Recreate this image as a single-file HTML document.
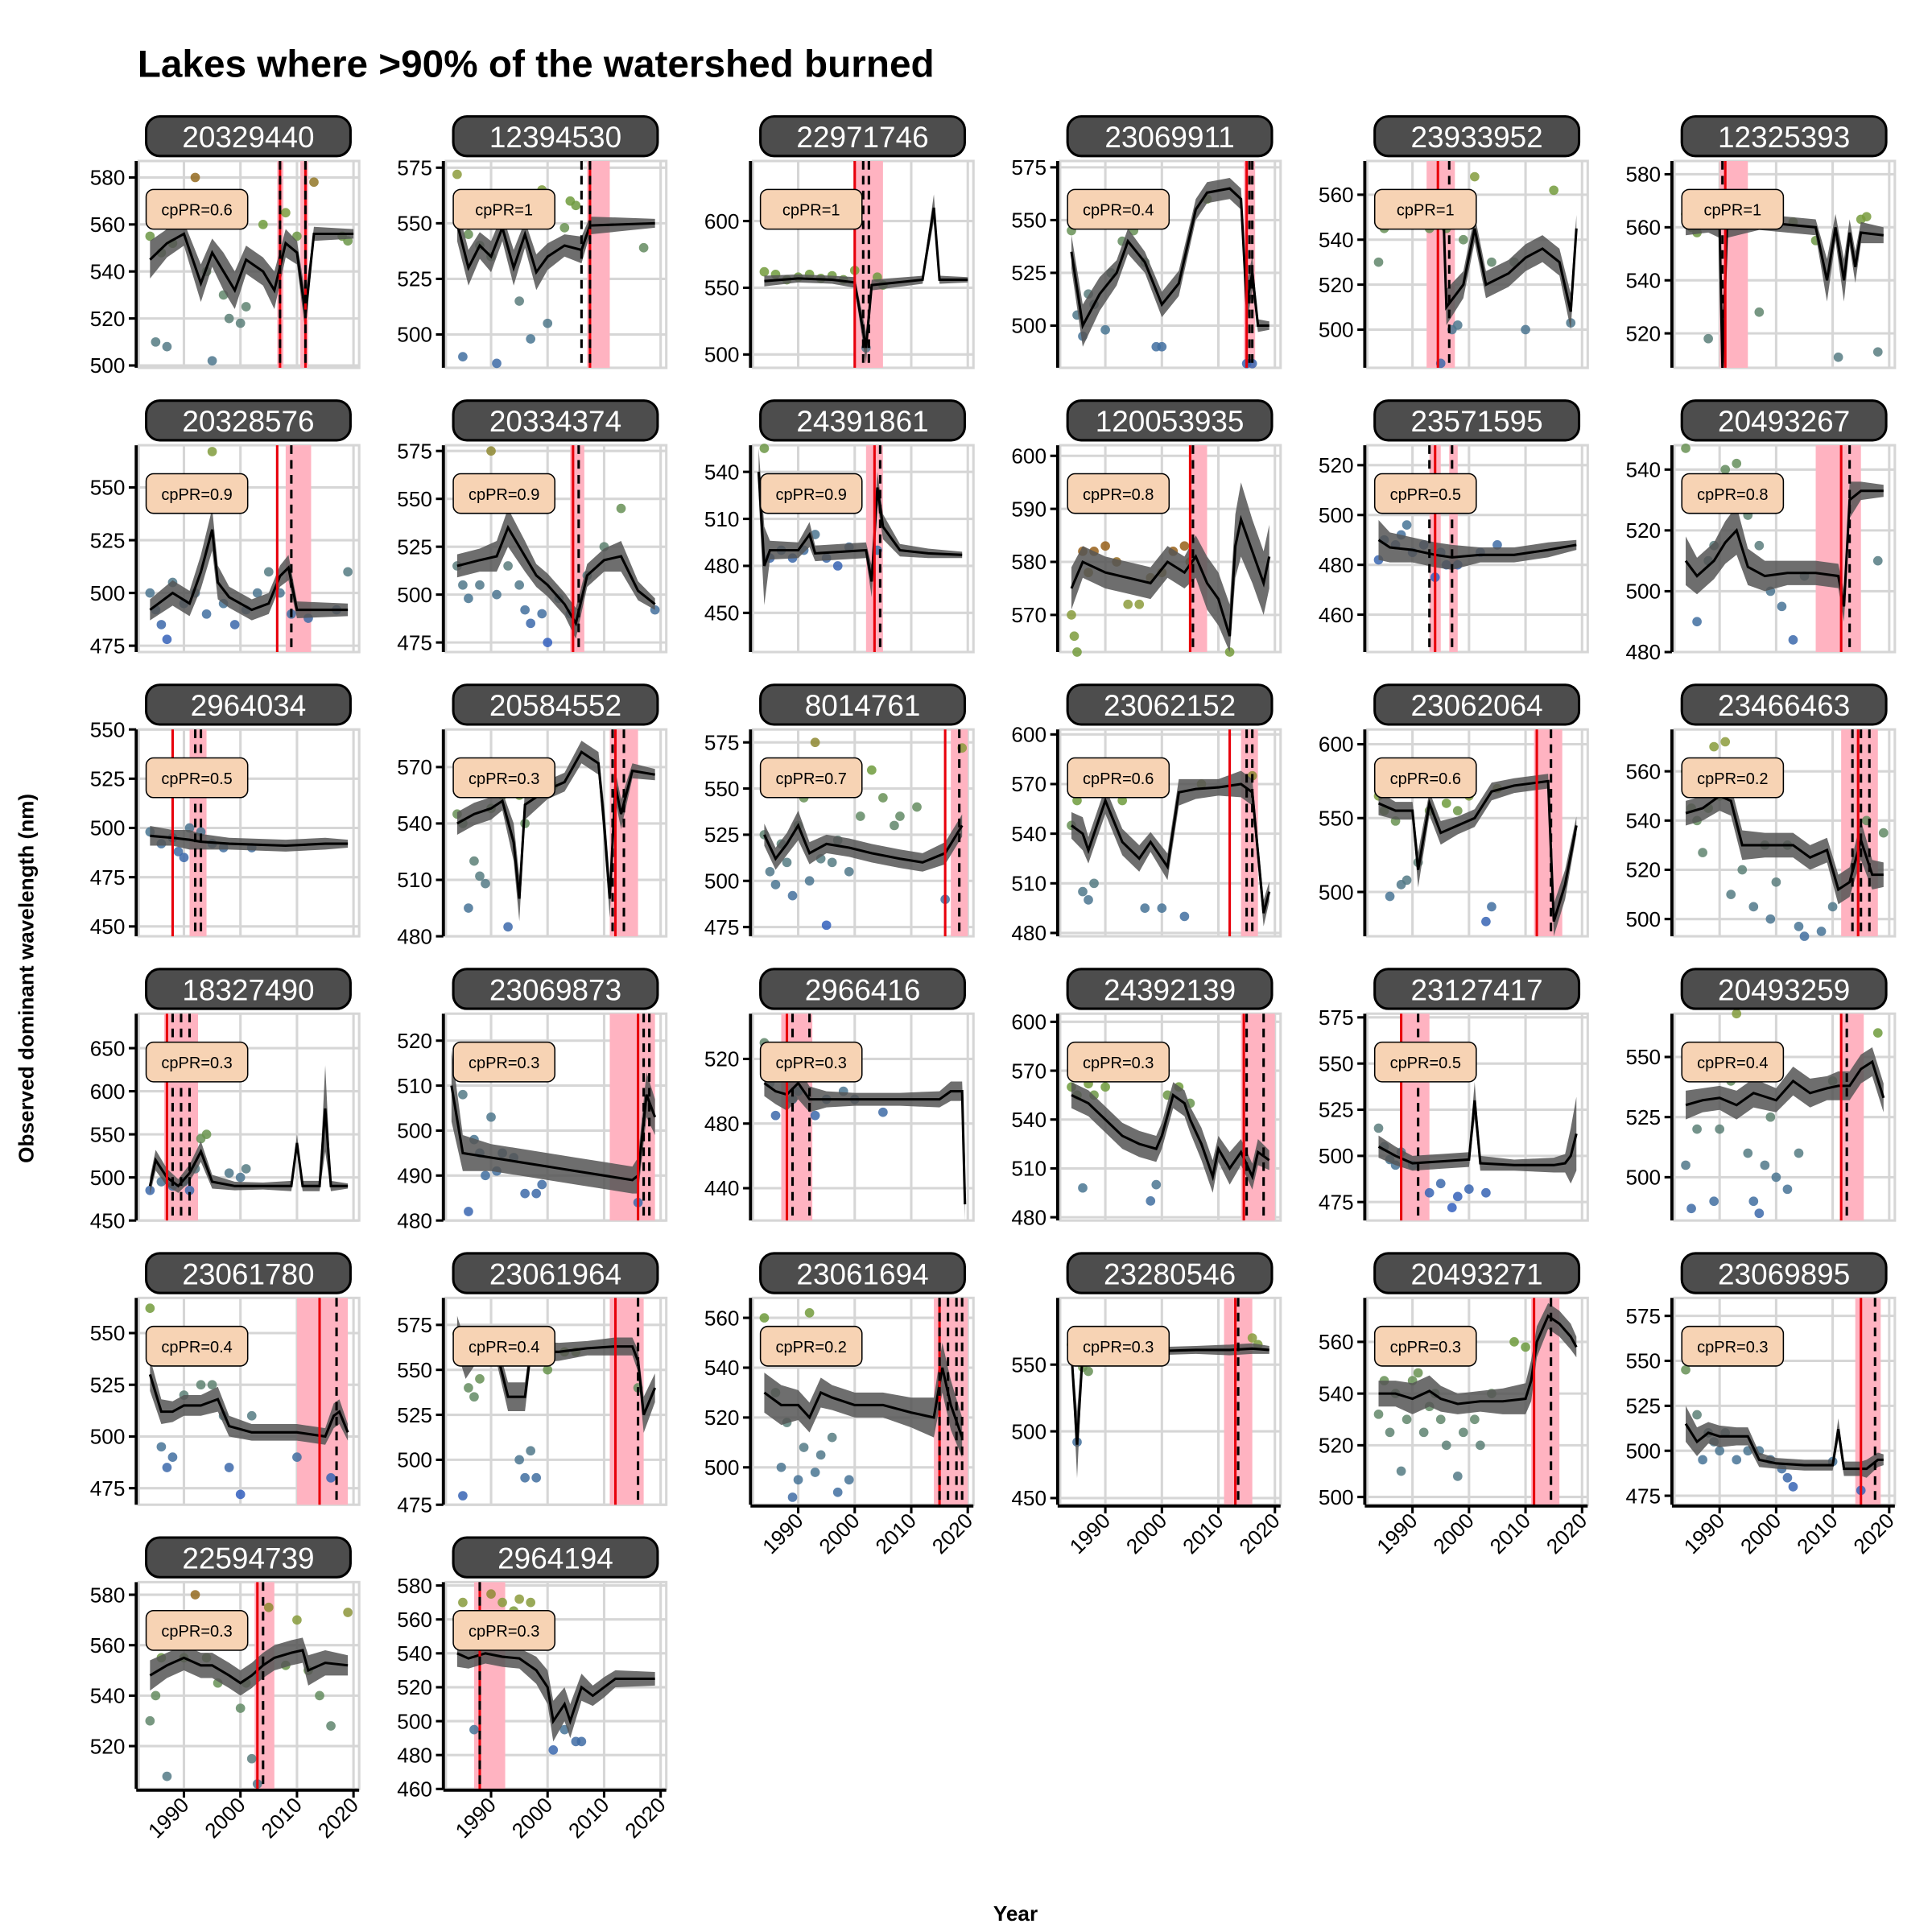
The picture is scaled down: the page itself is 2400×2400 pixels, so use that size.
<!DOCTYPE html>
<html><head><meta charset="utf-8"><style>
html,body{margin:0;padding:0;background:#fff}
svg{display:block;font-family:"Liberation Sans",Arial,sans-serif}
</style></head><body>
<svg id="chart" width="2400" height="2400" viewBox="0 0 1560 1560" xmlns="http://www.w3.org/2000/svg">
<text x="111" y="62" font-size="31" font-weight="bold">Lakes where &gt;90% of the watershed burned</text>
<text transform="translate(27,790) rotate(-90)" text-anchor="middle" font-size="17" font-weight="bold">Observed dominant wavelength (nm)</text>
<text x="820" y="1551" text-anchor="middle" font-size="17" font-weight="bold">Year</text>
<g id="panels"></g>
</svg>
<script>
const lakeIds=["20329440","12394530","22971746","23069911","23933952","12325393","20328576","20334374","24391861","120053935","23571595","20493267","2964034","20584552","8014761","23062152","23062064","23466463","18327490","23069873","2966416","24392139","23127417","20493259","23061780","23061964","23061694","23280546","20493271","23069895","22594739","2964194"];
const cpprValues=[0.6,1,1,0.4,1,1,0.9,0.9,0.9,0.8,0.5,0.8,0.5,0.3,0.7,0.6,0.6,0.2,0.3,0.3,0.3,0.3,0.5,0.4,0.4,0.4,0.2,0.3,0.3,0.3,0.3,0.3];
const yDomains=[[499,587],[485,578],[490,645],[480,578],[483,575],[507,585],[472,570],[470,578],[425,557],[563,602],[445,528],[480,548],[445,550],[480,590],[470,582],[478,603],[470,610],[493,577],[450,690],[480,526],[420,548],[478,605],[465,577],[482,568],[467,567],[475,590],[485,568],[445,600],[497,577],[470,585],[503,585],[460,582]];
const yTicks=[[500,520,540,560,580],[500,525,550,575],[500,550,600],[500,525,550,575],[500,520,540,560],[520,540,560,580],[475,500,525,550],[475,500,525,550,575],[450,480,510,540],[570,580,590,600],[460,480,500,520],[480,500,520,540],[450,475,500,525,550],[480,510,540,570],[475,500,525,550,575],[480,510,540,570,600],[500,550,600],[500,520,540,560],[450,500,550,600,650],[480,490,500,510,520],[440,480,520],[480,510,540,570,600],[475,500,525,550,575],[500,525,550],[475,500,525,550],[475,500,525,550,575],[500,520,540,560],[450,500,550],[500,520,540,560],[475,500,525,550,575],[520,540,560,580],[460,480,500,520,540,560,580]];
const xTicks=[1990,2000,2010,2020];
const fitLines=[
[[1984,545,8],[1987,552,6],[1990,556,5],[1993,535,8],[1995,548,6],[1997,540,8],[1999,532,8],[2001,545,6],[2004,540,6],[2006,532,8],[2008,552,6],[2010,548,5],[2011.5,522,8],[2013,556,3],[2020,556,2]],
[[1984,550,8],[1986,530,8],[1988,540,6],[1990,535,7],[1992,548,6],[1994,530,8],[1996,545,6],[1998,528,8],[2000,535,6],[2003,540,5],[2006,538,6],[2007.5,549,4],[2019,550,2]],
[[1984,555,4],[1990,557,3],[1996,556,3],[2000,554,4],[2002,505,12],[2003,552,4],[2012,556,3],[2014,610,10],[2015,556,3],[2020,556,2]],
[[1984,535,8],[1986,500,10],[1989,515,8],[1992,525,6],[1994,540,6],[1997,530,5],[2000,510,6],[2003,520,6],[2006,555,5],[2008,563,5],[2012,565,5],[2014,560,5],[2015,510,10],[2016,525,8],[2017,500,3],[2019,500,2]],
[[1984,550,5],[1988,552,4],[1992,550,4],[1995.5,550,5],[1996,510,8],[1999,520,6],[2001,545,6],[2003,520,6],[2007,525,6],[2010,532,6],[2013,536,6],[2016,530,6],[2018,508,8],[2019,545,6]],
[[1984,560,3],[1988,561,3],[1990,560,4],[1990.5,507,10],[1991.3,560,4],[1997,562,3],[2007,560,3],[2009,540,8],[2010.5,560,5],[2012,540,8],[2013,558,5],[2014,545,6],[2015,558,4],[2019,557,3]],
[[1984,492,5],[1988,500,6],[1991,495,6],[1993,510,8],[1995,530,10],[1996,505,8],[1998,498,5],[2002,492,5],[2005,495,5],[2007,508,5],[2008.5,512,6],[2010,492,4],[2019,492,3]],
[[1984,515,6],[1988,518,6],[1991,520,8],[1993,535,10],[1996,520,8],[1998,510,6],[2000,505,6],[2003,495,6],[2005,485,8],[2007,510,6],[2010,518,6],[2013,520,8],[2016,502,5],[2019,495,3]],
[[1983,540,15],[1984,480,25],[1985,490,6],[1990,490,5],[1992,500,8],[1993,488,5],[2002,490,5],[2003,470,10],[2004,530,10],[2005,505,8],[2008,490,4],[2013,488,3],[2019,487,2]],
[[1984,575,4],[1986,580,3],[1990,578,3],[1994,577,3],[1998,576,3],[2001,580,3],[2004,578,3],[2006,581,4],[2008,576,5],[2010,573,5],[2012,566,6],[2013,583,6],[2014,588,7],[2016,582,6],[2018,576,6],[2019,581,6]],
[[1984,490,8],[1986,487,6],[1990,486,5],[1994,484,5],[1997,483,5],[2002,484,3],[2008,484,3],[2014,486,3],[2019,488,2]],
[[1984,510,8],[1986,505,6],[1989,510,6],[1991,516,7],[1993,520,8],[1995,508,6],[1998,505,5],[2002,506,4],[2007,506,4],[2011,505,4],[2012,495,5],[2013,530,6],[2015,533,3],[2019,533,2]],
[[1984,496,5],[1988,495,4],[1991,494,5],[1993,493,4],[1998,492,3],[2008,491,3],[2015,492,3],[2019,492,2]],
[[1984,540,6],[1987,545,6],[1990,548,6],[1992,552,5],[1994,530,10],[1995,500,12],[1996,550,8],[2000,558,5],[2003,562,5],[2006,578,6],[2009,572,6],[2010,540,10],[2011,500,10],[2012,560,8],[2013,545,8],[2015,568,4],[2019,566,3]],
[[1984,525,6],[1986,512,6],[1988,520,6],[1990,530,8],[1992,515,6],[1995,520,5],[1999,518,5],[2003,515,5],[2008,512,5],[2012,510,5],[2016,515,6],[2018,525,6],[2019,530,6]],
[[1984,545,8],[1986,540,10],[1987,530,8],[1990,560,8],[1993,535,8],[1996,525,8],[1998,535,6],[2001,520,8],[2003,565,8],[2006,567,6],[2010,568,5],[2014,570,8],[2016,565,8],[2018,492,8],[2019,505,6]],
[[1984,560,8],[1987,555,6],[1990,555,6],[1991,515,12],[1993,560,8],[1995,540,8],[1998,545,6],[2001,550,6],[2004,568,6],[2008,572,5],[2014,575,5],[2015,480,12],[2017,505,10],[2019,545,6]],
[[1984,543,5],[1987,545,5],[1990,550,6],[1992,548,6],[1994,530,6],[1998,530,5],[2003,530,5],[2006,525,5],[2009,528,5],[2011,512,6],[2013,515,6],[2015,532,8],[2017,518,6],[2019,518,5]],
[[1984,490,10],[1985,520,12],[1987,500,10],[1989,490,8],[1991,505,10],[1993,530,12],[1995,495,8],[1999,490,5],[2004,490,4],[2009,490,6],[2010,540,10],[2011,490,6],[2014,490,6],[2015,580,50],[2016,490,6],[2019,490,3]],
[[1983,510,8],[1985,495,4],[1990,494,3],[1995,493,3],[2000,492,3],[2005,491,3],[2010,490,3],[2015,489,3],[2016,490,4],[2017.5,508,5],[2019,503,4]],
[[1984,505,8],[1986,500,8],[1988,498,10],[1990,505,10],[1992,495,8],[1995,495,5],[2000,495,4],[2008,495,4],[2015,495,5],[2017,500,6],[2019,500,6],[2019.5,430,30]],
[[1984,555,8],[1987,550,8],[1990,540,8],[1993,530,8],[1996,525,8],[1999,522,8],[2000,530,8],[2002,555,8],[2004,550,8],[2005,540,8],[2007,525,10],[2009,505,10],[2010,522,8],[2012,510,10],[2014,520,8],[2016,505,8],[2017,520,8],[2019,515,6]],
[[1984,505,6],[1987,500,5],[1990,496,4],[1995,497,4],[2000,498,4],[2001,530,10],[2002,496,4],[2008,495,3],[2015,495,4],[2017,496,5],[2018,500,15],[2019,512,20]],
[[1984,530,6],[1987,532,5],[1990,533,5],[1993,530,6],[1996,535,6],[2000,532,5],[2003,540,6],[2006,535,6],[2009,537,5],[2011,538,6],[2013,538,6],[2015,545,6],[2017,548,6],[2019,533,6]],
[[1984,530,8],[1986,512,6],[1988,512,5],[1990,515,5],[1993,515,5],[1996,518,6],[1998,505,5],[2002,502,4],[2006,502,4],[2010,502,4],[2015,500,4],[2016.5,510,6],[2017.5,512,6],[2019,502,4]],
[[1984,570,10],[1985.5,555,10],[1987,560,8],[1991,560,6],[1993,535,8],[1996,535,8],[1997,560,6],[2002,560,5],[2007,562,4],[2012,563,5],[2015,563,5],[2016,555,6],[2017,525,10],[2019,540,8]],
[[1984,530,8],[1987,525,8],[1990,525,6],[1992,520,6],[1994,530,6],[1996,528,5],[2000,525,5],[2005,525,5],[2010,522,6],[2014,520,8],[2015.5,540,10],[2017,525,10],[2019,512,8]],
[[1984,560,6],[1985,490,25],[1986,560,6],[1990,560,4],[1998,560,3],[2006,561,3],[2012,561,4],[2016,562,4],[2019,561,3]],
[[1984,540,5],[1987,540,5],[1990,538,6],[1993,541,6],[1995,538,5],[1998,536,4],[2002,537,4],[2006,537,5],[2010,538,6],[2011,545,8],[2012,560,6],[2014,570,5],[2016,567,5],[2018,562,5],[2019,558,4]],
[[1984,515,10],[1986,505,8],[1988,510,6],[1990,508,6],[1993,508,5],[1995,508,5],[1997,495,4],[2000,493,3],[2005,492,3],[2010,492,3],[2011,512,6],[2012,490,4],[2015,490,4],[2016,490,5],[2018,495,4],[2019,495,3]],
[[1984,548,6],[1987,552,5],[1990,555,5],[1993,552,5],[1995,552,5],[1998,548,5],[2000,545,5],[2002,548,5],[2004,552,5],[2006,555,5],[2009,557,5],[2011,558,5],[2012,550,6],[2015,553,5],[2019,552,4]],
[[1984,540,8],[1986,537,6],[1989,540,6],[1992,538,6],[1995,537,6],[1998,530,8],[2000,520,10],[2001,500,12],[2003,510,10],[2004,500,10],[2006,520,8],[2008,515,6],[2010,520,6],[2012,525,5],[2019,525,4]]
];
const obsPoints=[
[[1984,555],[1985,510],[1986,548],[1987,508],[1988,552],[1990,560],[1992,580],[1994,540],[1995,502],[1997,530],[1998,520],[2000,518],[2001,525],[2004,560],[2008,565],[2010,555],[2013,578],[2018,555],[2019,553]],
[[1984,572],[1985,490],[1986,545],[1988,540],[1990,535],[1991,487],[1993,555],[1995,515],[1997,498],[1999,565],[2000,505],[2003,548],[2004,560],[2005,558],[2017,539]],
[[1984,562],[1986,560],[1988,556],[1990,558],[1992,560],[1994,557],[1996,559],[1998,556],[2000,563],[2002,505],[2004,558],[2005,552]],
[[1984,545],[1985,505],[1986,495],[1987,515],[1988,510],[1990,498],[1991,525],[1993,540],[1995,545],[1997,530],[1999,490],[2000,490],[2008,560],[2015,482],[2016,482]],
[[1984,530],[1985,545],[1987,555],[1989,558],[1991,560],[1993,545],[1995,485],[1996,545],[1997,500],[1998,502],[1999,540],[2001,568],[2004,530],[2008,530],[2010,500],[2015,562],[2018,503]],
[[1984,565],[1985,560],[1986,558],[1988,518],[1990,570],[1992,565],[1995,568],[1997,528],[2003,562],[2007,555],[2011,511],[2015,563],[2016,564],[2018,513]],
[[1984,500],[1985,492],[1986,485],[1987,478],[1988,505],[1990,495],[1992,500],[1994,490],[1995,567],[1997,495],[1999,485],[2001,492],[2003,500],[2005,510],[2007,500],[2009,490],[2012,488],[2017,492],[2019,510]],
[[1984,515],[1985,505],[1986,498],[1988,505],[1990,575],[1991,500],[1993,515],[1995,505],[1996,492],[1997,485],[1999,490],[2000,475],[2002,498],[2004,490],[2007,510],[2010,525],[2013,545],[2019,492]],
[[1984,555],[1985,485],[1987,490],[1989,485],[1991,490],[1993,500],[1995,485],[1997,480],[1999,492],[2004,490]],
[[1984,570],[1984.5,566],[1985,562],[1986,582],[1987,578],[1988,582],[1990,583],[1992,580],[1994,572],[1996,572],[1998,577],[2000,578],[2002,582],[2004,583],[2005,580],[2012,563]],
[[1984,482],[1985,490],[1987,488],[1988,492],[1989,496],[1990,485],[1992,488],[1994,475],[1995,485],[1996,480],[1998,480],[2002,485],[2005,488]],
[[1984,547],[1985,528],[1986,490],[1988,510],[1989,515],[1991,540],[1993,542],[1995,525],[1997,515],[1999,500],[2001,495],[2003,484],[2005,505],[2018,510]],
[[1984,498],[1986,492],[1988,495],[1989,488],[1990,485],[1991,500],[1993,498],[1995,492],[1997,490],[2002,490]],
[[1984,545],[1985,540],[1986,495],[1987,520],[1988,512],[1989,508],[1990,548],[1992,555],[1993,485],[1995,555],[1996,540],[1997,560],[1999,568],[2001,560]],
[[1984,525],[1985,505],[1986,498],[1987,520],[1988,510],[1989,492],[1990,530],[1991,545],[1992,500],[1993,575],[1994,512],[1995,476],[1996,510],[1997,522],[1999,505],[2001,535],[2003,560],[2005,545],[2007,530],[2008,535],[2011,540],[2016,490],[2019,572]],
[[1984,545],[1985,560],[1986,505],[1987,500],[1988,510],[1990,570],[1993,560],[1995,575],[1997,495],[2000,495],[2004,490],[2007,570],[2016,575]],
[[1984,565],[1985,555],[1986,497],[1987,548],[1988,505],[1989,508],[1991,520],[1993,555],[1996,560],[1998,555],[2000,565],[2003,480],[2004,490],[2005,570]],
[[1984,560],[1985,545],[1986,540],[1987,527],[1988,545],[1989,570],[1990,550],[1991,572],[1992,510],[1994,520],[1996,505],[1998,530],[1999,500],[2000,515],[2002,530],[2004,497],[2005,490],[2008,495],[2010,505],[2016,540],[2019,535]],
[[1984,485],[1986,495],[1988,490],[1990,495],[1991,485],[1992,510],[1993,545],[1994,550],[1998,505],[2000,500],[2001,510]],
[[1984,515],[1985,508],[1986,482],[1987,498],[1988,495],[1989,490],[1990,503],[1991,491],[1992,495],[1994,494],[1996,486],[1998,486],[1999,488],[2016,484]],
[[1984,530],[1985,505],[1986,485],[1987,510],[1989,495],[1990,500],[1993,485],[1995,495],[1998,500],[2000,495],[2005,487]],
[[1984,560],[1985,555],[1986,498],[1987,562],[1988,555],[1990,560],[1998,490],[1999,500],[2001,555],[2003,560],[2005,550]],
[[1984,515],[1985,505],[1986,498],[1987,495],[1988,502],[1990,495],[1993,480],[1995,485],[1997,472],[1998,478],[2000,482],[2003,480]],
[[1984,505],[1985,487],[1986,520],[1988,545],[1989,490],[1990,520],[1992,540],[1993,568],[1995,510],[1996,490],[1997,485],[1998,505],[1999,525],[2000,500],[2002,495],[2004,510],[2010,540],[2018,560]],
[[1984,562],[1985,540],[1986,495],[1987,485],[1988,490],[1990,520],[1993,525],[1995,525],[1997,510],[1998,485],[2000,472],[2002,510],[2010,490],[2016,480]],
[[1984,570],[1985,480],[1986,540],[1987,535],[1988,545],[1990,570],[1995,500],[1996,490],[1997,505],[1998,490],[2000,550],[2003,560],[2005,560],[2016,540]],
[[1984,560],[1985,545],[1986,530],[1987,500],[1988,518],[1989,488],[1990,495],[1991,508],[1992,562],[1993,498],[1994,505],[1996,512],[1997,490],[1999,495]],
[[1984,565],[1985,492],[1986,548],[1987,545],[2016,570],[2017,565]],
[[1984,532],[1985,545],[1986,525],[1987,540],[1988,510],[1989,530],[1990,545],[1991,548],[1992,525],[1993,535],[1994,540],[1995,530],[1996,520],[1998,508],[1999,525],[2001,530],[2002,520],[2004,540],[2008,560],[2010,558]],
[[1984,545],[1985,550],[1986,520],[1987,495],[1988,510],[1989,505],[1990,500],[1991,510],[1993,495],[1995,500],[1997,500],[1999,495],[2001,490],[2002,485],[2003,480],[2010,494],[2015,478]],
[[1984,530],[1985,540],[1986,555],[1987,508],[1988,560],[1990,555],[1992,580],[1994,555],[1996,545],[1998,560],[2000,535],[2001,545],[2002,515],[2003,505],[2005,575],[2008,552],[2010,570],[2012,550],[2014,540],[2016,528],[2019,573]],
[[1984,560],[1985,570],[1986,562],[1987,495],[1988,545],[1990,575],[1992,570],[1994,565],[1995,572],[1997,570],[2001,483],[2003,495],[2005,488],[2006,488]]
];
const pinkBands=[[[2006.5,2007.6],[2010.6,2012]],[[2007,2011]],[[2000,2005]],[[2014.5,2016.5]],[[1992.5,1997.5]],[[1990,1995]],[[2008,2012.5]],[[2004,2006.5]],[[2002,2005]],[[2005,2008]],[[1993,1995],[1996.5,1998]],[[2007,2015]],[[1991,1994]],[[2011,2016]],[[2017,2020]],[[2014,2017]],[[2011.5,2016.5]],[[2011.5,2018]],[[1986.5,1992.5]],[[2011,2019]],[[1987,1992.5]],[[2014,2020]],[[1988,1993]],[[2011.5,2015.5]],[[2010,2019]],[[2011,2017]],[[2014,2020]],[[2011,2016]],[[2011,2016]],[[2014,2018.5]],[[2002.5,2006]],[[1987,1992.5]]];
const redLines=[[2007,2011.5],[2007.5],[2000],[2015],[1994.5],[1991],[2006.5],[2004.5],[2003.5],[2005],[1994],[2011.5],[1988],[2012],[2016],[2012],[2012],[2014.5],[1987],[2016],[1988],[2014.5],[1988],[2011.5],[2014],[2012],[2015],[2013],[2011.5],[2015],[2003],[1988]];
const dashedLines=[[2007,2011.5],[2006,2007.5],[2001.5,2002.5],[2015.5,2016],[1996.5],[1990.5],[2009],[2005.5],[2004.5],[2005.5],[1993,1997],[2013],[1992,1993],[2011.5,2013.5],[2018.5],[2015,2016],[2014.5],[2013.5,2015,2016.5],[1988,1989.5,1991],[2017,2018],[1989,1992],[2015,2018],[1991],[2012.5],[2017],[2016],[2015,2016.5,2018,2019],[2013.5],[2014.5],[2017.5],[2004],[1988]];

const NS="http://www.w3.org/2000/svg";
const root=document.getElementById('panels');
const XMIN=1982,XMAX=2021,PW=178,PH=167;
function mk(tag,attrs,parent){const e=document.createElementNS(NS,tag);for(const k in attrs)e.setAttribute(k,attrs[k]);parent.appendChild(e);return e;}
function ptColor(v){
  const stops=[[475,[50,95,190]],[495,[70,115,150]],[515,[90,125,125]],[540,[100,140,95]],[560,[110,155,60]],[572,[140,155,60]],[582,[150,95,25]]];
  if(v<=stops[0][0])return 'rgb('+stops[0][1]+')';
  for(let i=1;i<stops.length;i++){if(v<=stops[i][0]){const a=stops[i-1],b=stops[i],t=(v-a[0])/(b[0]-a[0]);return 'rgb('+a[1].map((c,j)=>Math.round(c+(b[1][j]-c)*t)).join(',')+')';}}
  return 'rgb('+stops[stops.length-1][1]+')';
}
lakeIds.forEach((id,i)=>{
  const col=i%6,row=Math.floor(i/6);
  const x0=112+248*col,y0=130+229.5*row;
  const [d0,d1]=yDomains[i];
  const xs=yr=>x0+(yr-XMIN)/(XMAX-XMIN)*PW;
  const ys=v=>y0+PH-(v-d0)/(d1-d0)*PH;
  const clampY=y=>Math.max(y0,Math.min(y0+PH,y));
  const g=mk('g',{},root);
  
  
  mk('rect',{x:x0,y:y0,width:PW,height:PH,fill:'#fff',stroke:'#d6d6d6','stroke-width':2},g);
  xTicks.forEach(t=>{mk('line',{x1:xs(t),x2:xs(t),y1:y0,y2:y0+PH,stroke:'#d6d6d6','stroke-width':2},g);});
  yTicks[i].forEach(t=>{mk('line',{x1:x0,x2:x0+PW,y1:ys(t),y2:ys(t),stroke:'#d6d6d6','stroke-width':2},g);});
  pinkBands[i].forEach(b=>{const r=mk('rect',{x:xs(b[0]),y:y0,width:xs(b[1])-xs(b[0]),height:PH,fill:'#ffb3c1'},g);});
  obsPoints[i].forEach(p=>{const c=mk('circle',{cx:xs(p[0]),cy:clampY(ys(p[1])),r:3.8,fill:ptColor(p[1]),'fill-opacity':0.85},g);});
  const L=fitLines[i];
  let up=L.map(p=>xs(p[0])+','+clampY(ys(p[1]+p[2]))).join(' ');
  let dn=L.slice().reverse().map(p=>xs(p[0])+','+clampY(ys(p[1]-p[2]))).join(' ');
  const rib=mk('polygon',{points:up+' '+dn,fill:'#555','fill-opacity':0.85},g);
  
  
  const ln=mk('polyline',{points:L.map(p=>xs(p[0])+','+clampY(ys(p[1]))).join(' '),fill:'none',stroke:'#000','stroke-width':2},g);
  
  
  redLines[i].forEach(r=>{const l=mk('line',{x1:xs(r),x2:xs(r),y1:y0,y2:y0+PH,stroke:'#e8000b','stroke-width':2},g);});
  dashedLines[i].forEach(r=>{const l=mk('line',{x1:xs(r),x2:xs(r),y1:y0,y2:y0+PH,stroke:'#000','stroke-width':2,'stroke-dasharray':'7,5'},g);});
  const lb=mk('rect',{x:x0+6,y:y0+23,width:82,height:32,rx:6,fill:'#f7d3b4',stroke:'#000','stroke-width':1},g);
  
  
  const lt=mk('text',{x:x0+47,y:y0+44,'text-anchor':'middle','font-size':13},g);lt.textContent='cpPR='+cpprValues[i];
  mk('line',{x1:x0-2,x2:x0-2,y1:y0,y2:y0+PH,stroke:'#000','stroke-width':2.5},g);
  yTicks[i].forEach(t=>{
    mk('line',{x1:x0-8,x2:x0-2,y1:ys(t),y2:ys(t),stroke:'#000','stroke-width':2},g);
    const tx=mk('text',{x:x0-11,y:ys(t)+6,'text-anchor':'end','font-size':17},g);tx.textContent=t;
    
  });
  const showX=(row===5)||(row===4&&col>=2);
  if(showX){
    mk('line',{x1:x0-2,x2:x0+PW,y1:y0+PH+1,y2:y0+PH+1,stroke:'#000','stroke-width':2.5},g);
    xTicks.forEach(t=>{
      mk('line',{x1:xs(t),x2:xs(t),y1:y0+PH+1,y2:y0+PH+7,stroke:'#000','stroke-width':2},g);
      const tx=mk('text',{transform:'translate('+(xs(t)+5)+','+(y0+PH+14)+') rotate(-45)','text-anchor':'end','font-size':17},g);tx.textContent=t;
      
    });
  }
  const st=mk('rect',{x:x0+6,y:y0-36,width:165,height:32,rx:11,fill:'#4d4d4d',stroke:'#000','stroke-width':2},g);
  
  
  const stt=mk('text',{x:x0+88.5,y:y0-11,'text-anchor':'middle','font-size':24,fill:'#fff'},g);stt.textContent=id;
});
</script>
</body></html>
